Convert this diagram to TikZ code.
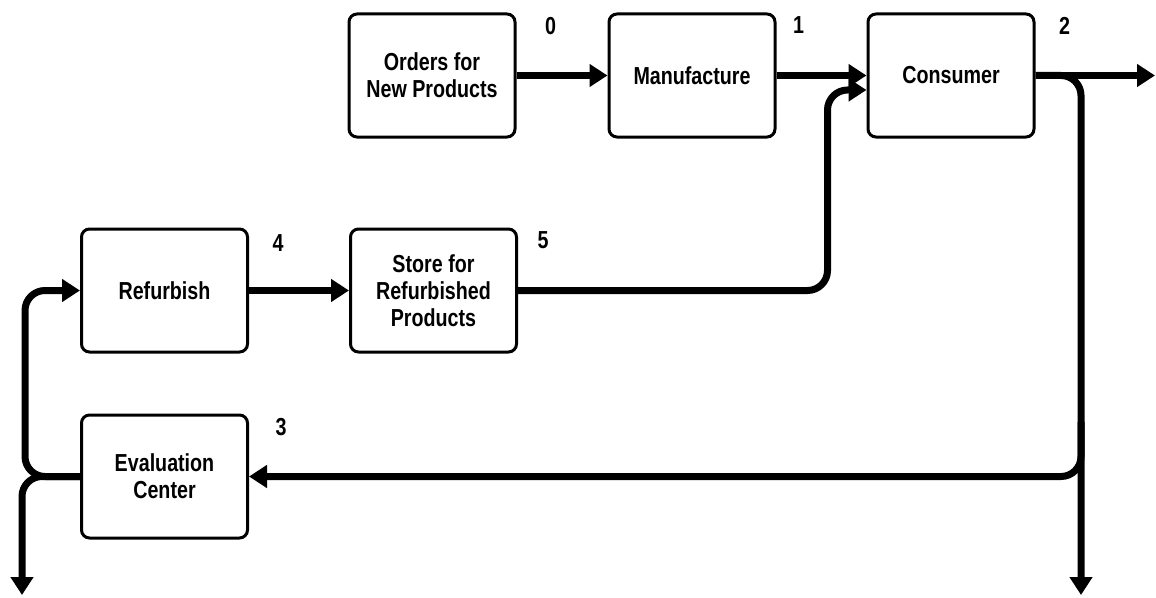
\documentclass[tikz,border=0pt]{standalone}
\usepackage{fontspec}
\newfontfamily\boxfont{Liberation Sans}[FakeStretch=0.8]
\usetikzlibrary{positioning, arrows.meta}

\begin{document}
\begin{tikzpicture}[-{Triangle[length=0.36cm,width=0.44cm]},line width=0.14cm,
			main node/.style={rectangle,draw,fill=white,-,line width=0.06cm,rounded corners=0.16cm,
				minimum width=3.32cm,minimum height=2.46cm,align=center,
				font=\boxfont\bfseries\fontsize{14}{15.5}\selectfont},
			num/.style={inner sep=0pt,font=\boxfont\bfseries\fontsize{14}{15.5}\selectfont},
			route/.style={rounded corners=0.4cm}]
			
			\useasboundingbox (0,0) rectangle (23.12,11.94);
			
			\node[main node] (orders) at (8.64,10.43) {Orders for\\New Products};
			\node[main node] (manufacture) [right=1.82cm of orders] {Manufacture};
			\node[main node] (consumer) [right=1.8cm of manufacture] {Consumer};
			\node[main node] (refurbish) at (3.29,6.13) {Refurbish};
			\node[main node] (store) [right=2.0cm of refurbish] {Store for\\Refurbished\\Products};
			\node[main node] (evaluation) [below=1.2cm of refurbish] {Evaluation\\Center};
			
			\node[num] (n0) [below right=0.02cm and 0.5cm of orders.north east] {0};
			\node[num] (n1) [below right=0.02cm and 0.26cm of manufacture.north east] {1};
			\node[num] (n2) [below right=0.02cm and 0.4cm of consumer.north east] {2};
			\node[num] (n4) [below right=0.08cm and 0.4cm of refurbish.north east] {4};
			\node[num] (n5) [below right=0.02cm and 0.32cm of store.north east] {5};
			\node[num] (n3) [below right=0.02cm and 0.46cm of evaluation.north east] {3};
			
			\coordinate (exit) at (23.1,10.43);
			\coordinate (drop) at (21.62,0.04);
			\coordinate (split) at (21.62,3.5);
			\coordinate (dump) at (0.44,0.04);
			
			\path (orders) edge (manufacture)
			(manufacture) edge (consumer)
			(refurbish) edge (store);
			
			\draw[route] (store.east) -| ([xshift=-0.78cm,yshift=-0.29cm]consumer.west) -- ([yshift=-0.29cm]consumer.west);
			\draw (consumer.east) -- (exit);
			\draw[route] (consumer.east) -| (drop);
			\draw[route] (split) |- (evaluation.east);
			\draw[route] (evaluation.west) -| (0.5,4) |- (refurbish.west);
			\draw[route] (evaluation.west) -| (dump);
		\end{tikzpicture}
\end{document}
